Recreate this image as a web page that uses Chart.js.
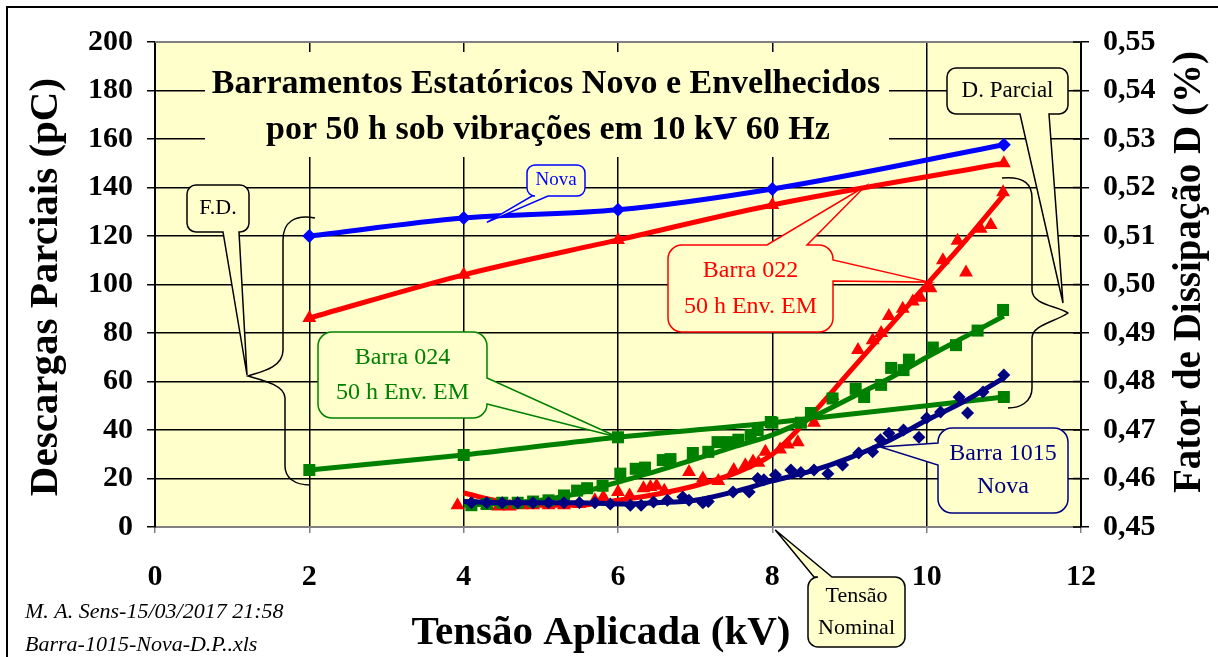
<!DOCTYPE html>
<html>
<head>
<meta charset="utf-8">
<script src="https://cdn.jsdelivr.net/npm/chart.js"></script>
<style>html,body{margin:0;padding:0;background:#fff;overflow:hidden}</style>
</head>
<body>
<canvas id="myChart" width="1218" height="657"></canvas>
<script>
// fator de dissipacao (eixo da direita, %)
var fdTensao = [2, 4, 6, 8, 11];
var fdNova = [0.5100, 0.5137, 0.5154, 0.5197, 0.5288];
var fd022 = [0.4931, 0.5020, 0.5092, 0.5164, 0.5250];
var fd024 = [0.46175, 0.46485, 0.4685, 0.4715, 0.4768];

// descargas parciais medidas (pC)
var dp022X = [3.92,4.1,4.3,4.45,4.6,4.75,4.9,5.1,5.3,5.5,5.7,5.81,6.0,6.15,6.33,6.42,6.5,6.6,6.92,7.1,7.3,7.5,7.65,7.75,7.82,7.91,8.1,8.2,8.33,8.54,8.78,9.11,9.3,9.41,9.51,9.69,9.82,9.92,10.05,10.21,10.4,10.51,10.7,10.83,10.99];
var dp022Y = [9,10,9,8.5,8.5,9,9,9,9,9.5,11,12.4,14.4,13,16,16.5,17,15,22.7,20,19,23.5,25.5,27,26.5,31,32,34,35,43,54,73,77,80,87,90,93,94.5,98.5,110,118,105,123,124.5,138];
var dp024X = [4.1,4.3,4.5,4.7,4.9,5.1,5.3,5.47,5.6,5.8,6.03,6.23,6.35,6.58,6.68,6.97,7.17,7.29,7.43,7.56,7.72,7.81,7.98,8.37,8.5,8.78,9.08,9.19,9.41,9.54,9.7,9.77,10.08,10.38,10.66,10.99];
var dp024Y = [9,9.5,10,10,10.5,11,13,15,16,17,22,24,24.5,27.6,28,30.5,31,35,35,36,38,40,43.3,43,47,53,57,53.6,58.6,65.6,64.7,69,74,75,81,89.5];
var dp1015X = [4.1,4.3,4.5,4.7,4.9,5.1,5.3,5.5,5.7,5.9,6.16,6.3,6.46,6.64,6.84,6.92,7.1,7.17,7.49,7.7,7.81,7.89,8.04,8.24,8.37,8.54,8.72,8.91,9.12,9.3,9.4,9.51,9.7,9.9,10.0,10.18,10.42,10.53,10.73,11.0];
var dp1015Y = [10,10,10,10,10,10,10,10,10,9.5,9,9,10.3,11,12.4,11,10,10.5,14.4,14.4,20,19.5,21.4,23.5,22.5,23.5,22,25.6,30.5,31,36,38.7,40,37,45,47.4,53.6,47,55.7,62.7];

// curvas de tendencia das descargas
var fitX = [4,4.5,5,5.5,6,6.5,7,7.5,8,8.5,9,9.5,10,10.5,11];
var fit022 = [14,10.5,9,9,11,13.5,17,22,30,46,64,82,100,118,137];
var fit024 = [9,9.8,11,14,18.5,23,28,33,38,45,53,61,70,78.5,87];
var fit1015 = [10.5,10,10,10,9.5,10,11,14.5,19,23,28.5,35.5,44,52,61.5];

var xTicks = [0,2,4,6,8,10,12];

function pts(xs, ys) {
  return xs.map(function(x, i) { return {x: x, y: ys[i]}; });
}

var AMARELO = '#FFFFCC';
var SERIF = '"Liberation Serif", "Times New Roman", serif';

function callout(ctx, b, color, lines, size, lh, wedges) {
  var x = b[0], y = b[1], w = b[2], h = b[3], r = b[4];
  function wg(side) { return wedges.filter(function(q) { return q.side === side; })[0]; }
  ctx.beginPath();
  ctx.moveTo(x + r, y);
  var q = wg('top');
  if (q) { ctx.lineTo(q.a, y); ctx.lineTo(q.tip[0], q.tip[1]); ctx.lineTo(q.b, y); }
  ctx.lineTo(x + w - r, y);
  ctx.arcTo(x + w, y, x + w, y + r, r);
  q = wg('right');
  if (q) { ctx.lineTo(x + w, q.a); ctx.lineTo(q.tip[0], q.tip[1]); ctx.lineTo(x + w, q.b); }
  ctx.lineTo(x + w, y + h - r);
  ctx.arcTo(x + w, y + h, x + w - r, y + h, r);
  q = wg('bottom');
  if (q) { ctx.lineTo(q.b, y + h); ctx.lineTo(q.tip[0], q.tip[1]); ctx.lineTo(q.a, y + h); }
  ctx.lineTo(x + r, y + h);
  ctx.arcTo(x, y + h, x, y + h - r, r);
  q = wg('left');
  if (q) { ctx.lineTo(x, q.b); ctx.lineTo(q.tip[0], q.tip[1]); ctx.lineTo(x, q.a); }
  ctx.lineTo(x, y + r);
  ctx.arcTo(x, y, x + r, y, r);
  ctx.closePath();
  ctx.fillStyle = AMARELO;
  ctx.fill();
  ctx.strokeStyle = color;
  ctx.lineWidth = 1.5;
  ctx.stroke();
  ctx.fillStyle = color;
  ctx.font = size + 'px ' + SERIF;
  ctx.textAlign = 'center';
  ctx.textBaseline = 'middle';
  var y0 = y + h / 2 - (lines.length - 1) * lh / 2;
  lines.forEach(function(t, i) { ctx.fillText(t, x + w / 2, y0 + i * lh); });
}

var fundo = {
  id: 'fundo',
  beforeDraw: function(chart) {
    var c = chart.ctx, a = chart.chartArea;
    c.save();
    c.fillStyle = '#fff';
    c.fillRect(0, 0, chart.width, chart.height);
    c.fillStyle = AMARELO;
    c.fillRect(a.left, a.top, a.right - a.left, a.bottom - a.top);
    c.restore();
  },
  afterDraw: function(chart) {
    var c = chart.ctx, a = chart.chartArea;
    var sx = chart.scales.x, sy = chart.scales.y, s2 = chart.scales.y2;
    c.save();

    // borda superior da area de plotagem
    c.strokeStyle = '#808080';
    c.lineWidth = 2;
    c.beginPath(); c.moveTo(a.left, a.top); c.lineTo(a.right, a.top); c.stroke();

    // marcas internas do eixo da direita
    c.strokeStyle = '#000';
    c.lineWidth = 1.5;
    s2.ticks.forEach(function(t) {
      var py = s2.getPixelForValue(t.value);
      c.beginPath(); c.moveTo(a.right - 8, py); c.lineTo(a.right, py); c.stroke();
    });

    // moldura externa
    c.lineWidth = 2;
    c.strokeRect(7, 7, 1240, 700);

    // titulo
    c.fillStyle = AMARELO;
    c.fillRect(205, 52, 684, 105);
    c.fillStyle = '#000';
    c.font = 'bold 34px ' + SERIF;
    c.textAlign = 'center';
    c.textBaseline = 'middle';
    c.fillText('Barramentos Estatóricos Novo e Envelhecidos', 546, 84);
    c.fillText('por 50 h sob vibrações em 10 kV 60 Hz', 548, 130);

    // titulos dos eixos
    c.font = 'bold 41px ' + SERIF;
    c.save(); c.translate(46, 287); c.rotate(-Math.PI / 2); c.fillText('Descargas Parciais (pC)', 0, 0); c.restore();
    c.fillText('Tensão Aplicada (kV)', 601, 633);
    c.font = 'bold 39px ' + SERIF;
    c.save(); c.translate(1190, 272); c.rotate(-Math.PI / 2); c.fillText('Fator de Dissipação D (%)', 0, 0); c.restore();

    // rodape
    c.font = 'italic 22px ' + SERIF;
    c.textAlign = 'left';
    c.fillText('M. A. Sens-15/03/2017 21:58', 25, 612);
    c.fillText('Barra-1015-Nova-D.P..xls', 25, 645);

    // chaves
    c.strokeStyle = '#000';
    c.lineWidth = 1.5;
    c.beginPath();
    c.moveTo(315, 218);
    c.bezierCurveTo(295, 214, 283, 222, 283, 240);
    c.lineTo(283, 350);
    c.bezierCurveTo(283, 368, 260, 372, 248, 376);
    c.bezierCurveTo(262, 380, 285, 385, 285, 398);
    c.lineTo(285, 466);
    c.bezierCurveTo(285, 478, 295, 485, 310, 485);
    c.stroke();
    c.beginPath();
    c.moveTo(1002, 178);
    c.bezierCurveTo(1025, 176, 1032, 185, 1032, 198);
    c.lineTo(1032, 290);
    c.bezierCurveTo(1032, 305, 1058, 306, 1068, 313);
    c.bezierCurveTo(1055, 322, 1032, 325, 1032, 338);
    c.lineTo(1032, 388);
    c.bezierCurveTo(1032, 402, 1020, 408, 1008, 408);
    c.stroke();

    // chamadas
    callout(c, [527, 165, 58, 31, 8], '#0000FF', ['Nova'], 19, 0,
      [{side: 'bottom', a: 532, b: 548, tip: [sx.getPixelForValue(4.3), s2.getPixelForValue(0.5128)]}]);
    callout(c, [187, 185, 62, 47, 9], '#000', ['F.D.'], 22, 0,
      [{side: 'bottom', a: 223, b: 239, tip: [247, 375]}]);
    callout(c, [947, 68, 121, 46, 9], '#000', ['D. Parcial'], 23, 0,
      [{side: 'bottom', a: 1020, b: 1049, tip: [1063, 303]}]);
    callout(c, [668, 245, 165, 87, 14], '#FF0000', ['Barra 022', '50 h Env. EM'], 24, 36,
      [{side: 'top', a: 767, b: 807, tip: [sx.getPixelForValue(9.2), s2.getPixelForValue(0.5202)]},
       {side: 'right', a: 260, b: 281, tip: [sx.getPixelForValue(10.03), sy.getPixelForValue(101)]}]);
    callout(c, [318, 332, 169, 86, 14], '#008000', ['Barra 024', '50 h Env. EM'], 24, 35,
      [{side: 'right', a: 378, b: 404, tip: [sx.getPixelForValue(6), s2.getPixelForValue(fd024[2])]}]);
    callout(c, [938, 428, 130, 85, 14], '#000080', ['Barra 1015', 'Nova'], 24, 33,
      [{side: 'left', a: 443, b: 465, tip: [sx.getPixelForValue(9.4), sy.getPixelForValue(33)]}]);
    callout(c, [808, 577, 97, 70, 10], '#000', ['Tensão', 'Nominal'], 22, 32,
      [{side: 'top', a: 814, b: 832, tip: [sx.getPixelForValue(8) + 3, sy.getPixelForValue(0) + 3]}]);

    c.restore();
  }
};

function medida(label, xs, ys, cor, estilo, raio) {
  return {
    label: label, data: pts(xs, ys), yAxisID: 'y', showLine: false,
    pointStyle: estilo, pointRadius: raio, backgroundColor: cor, borderColor: cor, borderWidth: 0
  };
}
function tendencia(label, ys, cor) {
  return {
    label: label, data: pts(fitX, ys), yAxisID: 'y', showLine: true, pointRadius: 0,
    borderColor: cor, borderWidth: 5, cubicInterpolationMode: 'monotone', fill: false
  };
}
function fator(label, ys, cor, estilo, raio) {
  return {
    label: label, data: pts(fdTensao, ys), yAxisID: 'y2', showLine: true,
    pointStyle: estilo, pointRadius: raio, backgroundColor: cor, borderColor: cor,
    borderWidth: 5, pointBorderWidth: 0, cubicInterpolationMode: 'monotone', fill: false
  };
}

Chart.defaults.font.family = SERIF;
Chart.defaults.color = '#000';

new Chart('myChart', {
  type: 'scatter',
  data: {
    datasets: [
      tendencia('DP 1015', fit1015, '#000080'),
      medida('DP 1015', dp1015X, dp1015Y, '#000080', 'rectRot', 6.5),
      tendencia('DP 024', fit024, '#008000'),
      medida('DP 024', dp024X, dp024Y, '#008000', 'rect', 8.5),
      tendencia('DP 022', fit022, '#FF0000'),
      medida('DP 022', dp022X, dp022Y, '#FF0000', 'triangle', 8),
      fator('FD Nova', fdNova, '#0000FF', 'rectRot', 7),
      fator('FD 022', fd022, '#FF0000', 'triangle', 8),
      fator('FD 024', fd024, '#008000', 'rect', 8.5)
    ]
  },
  options: {
    responsive: false,
    animation: false,
    layout: {padding: {top: 42, left: 0, right: 0, bottom: 0}},
    plugins: {legend: {display: false}, tooltip: {enabled: false}},
    scales: {
      x: {
        type: 'linear', min: 0, max: 12,
        afterBuildTicks: function(s) { s.ticks = xTicks.map(function(v) { return {value: v}; }); },
        afterFit: function(s) { s.height = 130; },
        grid: {
          color: function(ctx) { return (ctx.tick && (ctx.tick.value === 0 || ctx.tick.value === 12)) ? 'rgba(0,0,0,0)' : '#000'; },
          lineWidth: 1.5, tickColor: '#808080', tickLength: 6
        },
        border: {color: '#808080', width: 2},
        ticks: {font: {size: 30, weight: 'bold'}, padding: 26, maxRotation: 0}
      },
      y: {
        position: 'left', min: 0, max: 200,
        ticks: {stepSize: 20, font: {size: 30, weight: 'bold'}, padding: 14},
        afterFit: function(s) { s.width = 155; },
        grid: {
          color: function(ctx) { return (ctx.tick && (ctx.tick.value === 0 || ctx.tick.value === 200)) ? 'rgba(0,0,0,0)' : '#000'; },
          lineWidth: 1.5, tickColor: '#000', tickLength: 8
        },
        border: {color: '#000', width: 2}
      },
      y2: {
        position: 'right', min: 0.45, max: 0.55,
        ticks: {
          stepSize: 0.01, font: {size: 30, weight: 'bold'}, padding: 14,
          callback: function(v) { return v.toFixed(2).replace('.', ','); }
        },
        afterFit: function(s) { s.width = 137; },
        grid: {drawOnChartArea: false, color: '#000', lineWidth: 1.5, tickLength: 8},
        border: {color: '#000', width: 2}
      }
    }
  },
  plugins: [fundo]
});
</script>
</body>
</html>
